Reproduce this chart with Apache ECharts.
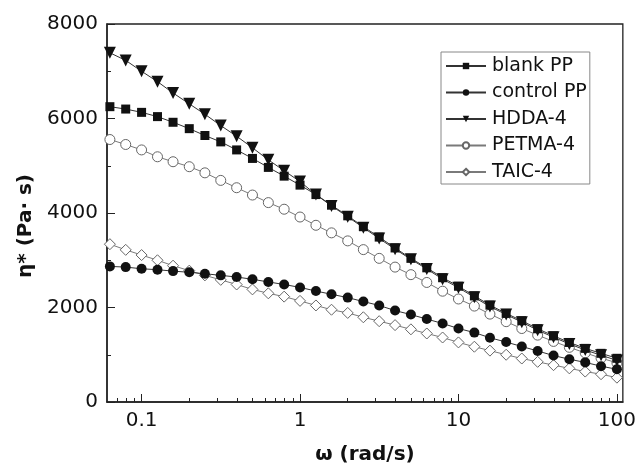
<!DOCTYPE html>
<html>
<head>
<meta charset="utf-8">
<script src="https://cdn.jsdelivr.net/npm/echarts@6/dist/echarts.min.js"></script>
<style>
  html, body { margin: 0; padding: 0; background: #fff; }
  #main { width: 639px; height: 470px; }
</style>
</head>
<body>
<div id="main"></div>
<script>
// Angular frequency sweep, rad/s (10 points per decade)
const omega = [0.0631, 0.0794, 0.1, 0.126, 0.158, 0.2, 0.251, 0.316, 0.398, 0.501,
  0.631, 0.794, 1, 1.26, 1.58, 2, 2.51, 3.16, 3.98, 5.01,
  6.31, 7.94, 10, 12.6, 15.8, 20, 25.1, 31.6, 39.8, 50.1,
  63.1, 79.4, 100];

// Complex viscosity, Pa·s
const blankPP = [6250, 6200, 6130, 6040, 5920, 5785, 5640, 5505, 5335, 5155,
  4965, 4780, 4590, 4390, 4165, 3940, 3710, 3490, 3260, 3040,
  2840, 2630, 2450, 2245, 2050, 1875, 1720, 1550, 1400, 1260,
  1135, 1030, 925];
const controlPP = [2870, 2855, 2820, 2800, 2770, 2745, 2715, 2680, 2645, 2597,
  2541, 2487, 2425, 2348, 2280, 2209, 2126, 2043, 1935, 1850,
  1755, 1662, 1555, 1469, 1360, 1268, 1175, 1080, 983, 905,
  838, 758, 692];
const hdda4 = [7390, 7230, 7000, 6780, 6540, 6310, 6090, 5850, 5625, 5380,
  5125, 4895, 4665, 4390, 4150, 3920, 3690, 3460, 3235, 3020,
  2815, 2600, 2420, 2215, 2020, 1850, 1690, 1520, 1370, 1230,
  1100, 990, 880];
const petma4 = [5555, 5450, 5335, 5190, 5085, 4980, 4850, 4690, 4535, 4380,
  4220, 4080, 3915, 3740, 3580, 3410, 3225, 3040, 2855, 2695,
  2530, 2345, 2180, 2030, 1860, 1700, 1555, 1415, 1282, 1157,
  1039, 929, 830];
const taic4 = [3340, 3220, 3110, 3000, 2885, 2780, 2680, 2585, 2487, 2383,
  2300, 2230, 2140, 2043, 1953, 1885, 1793, 1710, 1627, 1538,
  1450, 1365, 1261, 1170, 1087, 1000, 920, 850, 780, 712,
  644, 588, 515];

// Axis ticks
const xMajorTicks = [0.1, 1, 10, 100];
const yTicks = [0, 2000, 4000, 6000, 8000];

const X_MIN = 0.0605, X_MAX = 109;

// Log-spaced minor ticks (2..9 within each decade)
const xMinorTicks = [];
[0.01, 0.1, 1, 10].forEach(function (d) {
  for (let m = 2; m <= 9; m++) {
    const v = +(m * d).toPrecision(3);
    if (v > X_MIN && v < X_MAX) xMinorTicks.push(v);
  }
});

const FONT = 'DejaVu Sans';

function makeSeries(name, values, symbol, size, open, rotate) {
  return {
    name: name,
    type: 'line',
    data: omega.map(function (w, i) { return [w, values[i]]; }),
    symbol: symbol,
    symbolSize: size,
    symbolRotate: rotate || 0,
    showAllSymbol: true,
    lineStyle: { color: open ? '#7a7a7a' : '#333', width: 1 },
    itemStyle: open
      ? { color: '#fff', borderColor: '#666', borderWidth: 1 }
      : { color: '#111', borderColor: '#111', borderWidth: 0 },
    emphasis: { disabled: true },
    z: open ? 2 : 3
  };
}

const chart = echarts.init(document.getElementById('main'), null, { renderer: 'canvas' });

chart.setOption({
  animation: false,
  backgroundColor: '#fff',
  grid: {
    left: 107, top: 24, right: 14, bottom: 61,
    show: true, borderColor: '#222', borderWidth: 1.3, backgroundColor: 'transparent'
  },
  legend: {
    orient: 'vertical',
    left: 441, top: 52,
    padding: [4, 3, 2, 4],
    borderColor: '#888', borderWidth: 1,
    itemWidth: 40, itemHeight: 8, itemGap: 6.5,
    textStyle: { fontFamily: FONT, fontSize: 19, color: '#111', lineHeight: 20, padding: [0, 0, 0, 1] },
    data: ['blank PP', 'control PP', 'HDDA-4', 'PETMA-4', 'TAIC-4']
  },
  xAxis: [
    {
      type: 'log', logBase: 10, min: X_MIN, max: X_MAX,
      name: 'ω (rad/s)', nameLocation: 'middle', nameGap: 43,
      nameTextStyle: { fontFamily: FONT, fontSize: 20, fontWeight: 'bold', color: '#111' },
      axisLine: { show: true, lineStyle: { color: '#222', width: 1.5 } },
      axisTick: { show: true, inside: true, length: 8, customValues: xMajorTicks, lineStyle: { color: '#222', width: 1 } },
      axisLabel: { show: true, customValues: xMajorTicks, margin: 9, fontFamily: FONT, fontSize: 20, color: '#111',
        formatter: function (v) { return String(+v.toPrecision(3)); } },
      splitLine: { show: false },
      minorTick: { show: false }
    },
    {
      type: 'log', logBase: 10, min: X_MIN, max: X_MAX, position: 'bottom',
      axisLine: { show: false },
      axisTick: { show: true, inside: true, length: 4, customValues: xMinorTicks, lineStyle: { color: '#222', width: 1 } },
      axisLabel: { show: false },
      splitLine: { show: false }
    }
  ],
  yAxis: {
    type: 'value', min: yTicks[0], max: yTicks[yTicks.length - 1], interval: 2000,
    name: 'η* (Pa· s)', nameLocation: 'middle', nameGap: 63, nameRotate: 90,
    nameTextStyle: { fontFamily: FONT, fontSize: 20, fontWeight: 'bold', color: '#111', padding: [0, 26, 0, 0] },
    axisLine: { show: true, lineStyle: { color: '#222', width: 1.5 } },
    axisTick: { show: true, inside: true, length: 8, lineStyle: { color: '#222', width: 1 } },
    minorTick: { show: true, splitNumber: 2, length: 4, lineStyle: { color: '#222', width: 1 } },
    axisLabel: { margin: 9, fontFamily: FONT, fontSize: 20, color: '#111',
      formatter: function (v) { return String(v); } },
    splitLine: { show: false },
    minorSplitLine: { show: false }
  },
  series: [
    makeSeries('TAIC-4', taic4, 'diamond', 11, true),
    makeSeries('PETMA-4', petma4, 'circle', 10, true),
    makeSeries('control PP', controlPP, 'circle', 10, false),
    makeSeries('blank PP', blankPP, 'rect', 9, false),
    makeSeries('HDDA-4', hdda4, 'triangle', 12, false, 180)
  ]
});
</script>
</body>
</html>
